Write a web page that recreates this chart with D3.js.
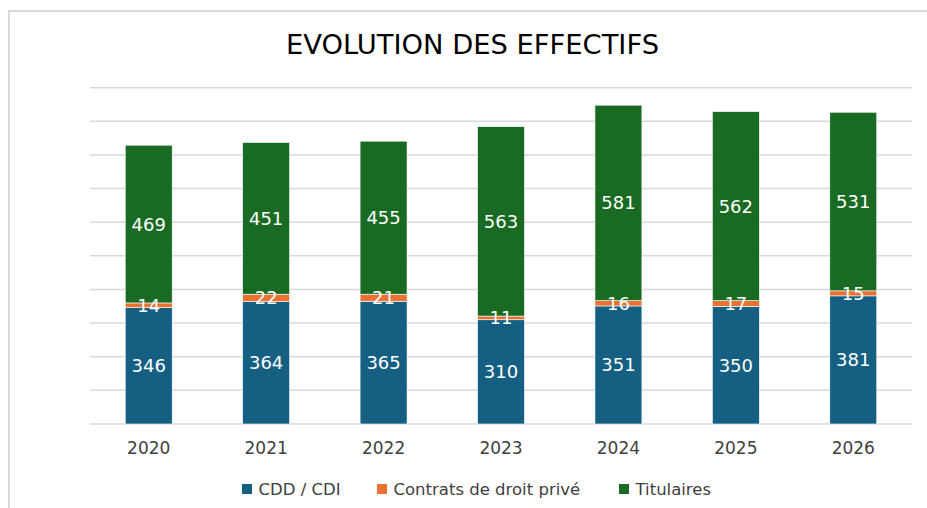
<!DOCTYPE html>
<html>
<head>
<meta charset="utf-8">
<script src="https://cdn.jsdelivr.net/npm/d3@7"></script>
<style>
  body { margin: 0; background: #fff; }
  .valText { fill: #fff; font-family: "DejaVu Sans", sans-serif; font-size: 18px; text-anchor: middle; }
  .tick text { font-family: "DejaVu Sans", sans-serif; font-size: 17px; fill: #404040; }
  .legendText { font-family: "DejaVu Sans", sans-serif; font-size: 16.5px; fill: #404040; }
</style>
</head>
<body>
<div id="chart"></div>
<script>
var svgWidth = 927;
var svgHeight = 508;

// data
var years = ["2020", "2021", "2022", "2023", "2024", "2025", "2026"];
var cddCdi = [346, 364, 365, 310, 351, 350, 381];
var contrats = [14, 22, 21, 11, 16, 17, 15];
var titulaires = [469, 451, 455, 563, 581, 562, 531];
var seriesNames = ["CDD / CDI", "Contrats de droit privé", "Titulaires"];
var colors = ["#156082", "#E97132", "#196B24"];
var gridTicks = [0, 100, 200, 300, 400, 500, 600, 700, 800, 900, 1000];

// plot area
var margin = { top: 87.7, right: 15, bottom: 84, left: 90 };
var width = 912 - margin.left;
var height = 424 - margin.top;

var svg = d3.select("#chart")
  .append("svg")
  .attr("width", svgWidth)
  .attr("height", svgHeight);

// light frame round the chart
svg.append("path")
  .attr("d", "M9,508 V11 H927")
  .attr("fill", "none")
  .attr("stroke", "#d9d9d9")
  .attr("stroke-width", 2);

svg.append("text")
  .attr("x", 286)
  .attr("y", 54)
  .attr("textLength", 373)
  .attr("lengthAdjust", "spacingAndGlyphs")
  .style("font-family", "'Liberation Sans Narrow', 'DejaVu Sans Condensed', sans-serif")
  .style("font-size", "26px")
  .style("fill", "#000")
  .text("EVOLUTION DES EFFECTIFS");

var chartGroup = svg.append("g")
  .attr("transform", `translate(${margin.left}, ${margin.top})`);

var rows = years.map(function(y, i) {
  return { year: y, a: cddCdi[i], b: contrats[i], c: titulaires[i] };
});
var stack = d3.stack().keys(["a", "b", "c"])(rows);

var xScale = d3.scaleBand()
  .domain(years)
  .range([0, width])
  .paddingInner(0.6)
  .paddingOuter(0.3);

var yScale = d3.scaleLinear()
  .domain([0, 1000])
  .range([height, 0]);

// gridlines
chartGroup.append("g").selectAll("line")
  .data(gridTicks)
  .enter()
  .append("line")
  .attr("x1", 0)
  .attr("x2", width)
  .attr("y1", d => yScale(d))
  .attr("y2", d => yScale(d))
  .attr("stroke", "#d9d9d9")
  .attr("stroke-width", 1.5);

// bars
var layers = chartGroup.selectAll("g.layer")
  .data(stack)
  .enter()
  .append("g")
  .attr("class", "layer")
  .attr("fill", (d, i) => colors[i]);

layers.selectAll("rect")
  .data(d => d)
  .enter()
  .append("rect")
  .attr("x", d => xScale(d.data.year))
  .attr("width", xScale.bandwidth())
  .attr("y", d => yScale(d[1]))
  .attr("height", d => yScale(d[0]) - yScale(d[1]))
  .attr("stroke", "#ffffff")
  .attr("stroke-width", 0.6);

// value labels, on top of every bar
var labelGroup = chartGroup.append("g");
stack.forEach(function(layer) {
  labelGroup.selectAll(null)
    .data(layer)
    .enter()
    .append("text")
    .attr("class", "valText")
    .attr("x", d => xScale(d.data.year) + xScale.bandwidth() / 2)
    .attr("y", d => yScale((d[0] + d[1]) / 2) + 6.5)
    .text(d => d[1] - d[0]);
});

// x axis
var bottomAxis = d3.axisBottom(xScale).tickSize(0).tickPadding(17.5);
var xAxis = chartGroup.append("g")
  .attr("transform", `translate(0, ${height})`)
  .call(bottomAxis);
xAxis.select(".domain").remove();

// legend
var legendX = [242, 377, 619];
var legend = svg.append("g").selectAll("g")
  .data(seriesNames)
  .enter()
  .append("g")
  .attr("transform", (d, i) => `translate(${legendX[i]}, 484)`);

legend.append("rect")
  .attr("width", 10)
  .attr("height", 10)
  .attr("fill", (d, i) => colors[i]);

legend.append("text")
  .attr("class", "legendText")
  .attr("x", 16.5)
  .attr("y", 10.5)
  .text(d => d);
</script>
</body>
</html>
